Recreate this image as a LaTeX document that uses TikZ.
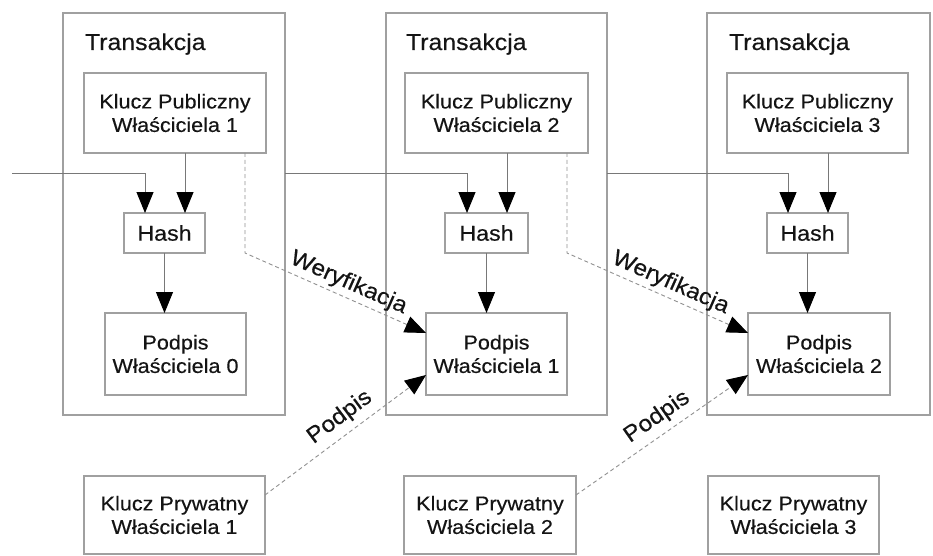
\documentclass[tikz,border=0pt]{standalone}
\usepackage{fontspec}
\setmainfont[FakeStretch=1.08,FakeBold=0.35]{Liberation Sans}
\usetikzlibrary{arrows.meta,calc}
\definecolor{boxgray}{RGB}{160,160,160}
\definecolor{linegray}{RGB}{120,120,120}
\definecolor{dashgray}{RGB}{145,145,145}
\definecolor{txt}{RGB}{20,20,20}
\begin{document}
\begin{tikzpicture}[x=1pt,y=-1pt,
  every node/.style={text=txt, inner sep=0pt, outer sep=0pt},
  frame/.style={draw=boxgray, line width=1.2pt, rectangle},
  keybox/.style={frame, align=center, font=\fontsize{20}{23.5}\selectfont},
  hashbox/.style={frame, font=\fontsize{21.5}{25}\selectfont},
  ttl/.style={anchor=base west, font=\fontsize{23}{27}\selectfont},
  arr/.style={draw=linegray, line width=0.9pt, -{Triangle[length=21pt,width=17pt,color=black]}},
  dasharr/.style={draw=dashgray, line width=0.9pt, dash pattern=on 4pt off 3pt, -{Triangle[length=21pt,width=17pt,color=black]}},
  lbl/.style={sloped, above, font=\fontsize{22.5}{26}\selectfont}
]
\useasboundingbox (0,0) rectangle (933,556);
\fill[white] (0,0) rectangle (933,556);

% transaction frames
\node[frame, minimum width=222pt, minimum height=402pt] (t1) at (174,214) {};
\node[frame, minimum width=221pt, minimum height=402pt] (t2) at (496.5,214) {};
\node[frame, minimum width=223pt, minimum height=402pt] (t3) at (818.5,214) {};
\node[ttl] (t1l) at (85,50) {Transakcja};
\node[ttl] (t2l) at (406,50) {Transakcja};
\node[ttl] (t3l) at (729,50) {Transakcja};

% public keys
\node[keybox, minimum width=182pt, minimum height=80pt] (pk1) at (175,113) {Klucz Publiczny\\Właściciela 1};
\node[keybox, minimum width=183pt, minimum height=80pt] (pk2) at (496.5,113) {Klucz Publiczny\\Właściciela 2};
\node[keybox, minimum width=181pt, minimum height=80pt] (pk3) at (817.5,113) {Klucz Publiczny\\Właściciela 3};

% hashes
\node[hashbox, minimum width=81pt, minimum height=40pt] (h1) at (164.5,233) {Hash};
\node[hashbox, minimum width=83pt, minimum height=40pt] (h2) at (486.5,233) {Hash};
\node[hashbox, minimum width=81pt, minimum height=40pt] (h3) at (807.5,233) {Hash};

% signatures
\node[keybox, minimum width=141pt, minimum height=82pt] (s0) at (175.5,354) {Podpis\\Właściciela 0};
\node[keybox, minimum width=141pt, minimum height=82pt] (s1) at (496.5,354) {Podpis\\Właściciela 1};
\node[keybox, minimum width=142pt, minimum height=82pt] (s2) at (819,354) {Podpis\\Właściciela 2};

% private keys
\node[keybox, minimum width=181pt, minimum height=78pt] (k1) at (174.5,515) {Klucz Prywatny\\Właściciela 1};
\node[keybox, minimum width=172pt, minimum height=78pt] (k2) at (490,515) {Klucz Prywatny\\Właściciela 2};
\node[keybox, minimum width=171pt, minimum height=78pt] (k3) at (793.5,515) {Klucz Prywatny\\Właściciela 3};

\coordinate (in0) at (12,173);

% chain into hashes
\draw[arr] (in0) -| ([xshift=-19.5pt]h1.north);
\draw[arr] (t1.east |- in0) -| ([xshift=-19.5pt]h2.north);
\draw[arr] (t2.east |- in0) -| ([xshift=-19.5pt]h3.north);

% public key into hash
\draw[arr] ([xshift=20.5pt]h1.north |- pk1.south) -- ([xshift=20.5pt]h1.north);
\draw[arr] ([xshift=20.5pt]h2.north |- pk2.south) -- ([xshift=20.5pt]h2.north);
\draw[arr] ([xshift=20.5pt]h3.north |- pk3.south) -- ([xshift=20.5pt]h3.north);

% hash into signature
\draw[arr] (h1.south) -- (h1.south |- s0.north);
\draw[arr] (h2.south) -- (h2.south |- s1.north);
\draw[arr] (h3.south) -- (h3.south |- s2.north);

% verification
\draw[dasharr] ([xshift=70pt]pk1.south) -- ([xshift=70pt]pk1.south |- h1.south)
  -- node[lbl, pos=0.54, inner sep=4pt] {Weryfikacja} ([yshift=21pt]s1.west);
\draw[dasharr] ([xshift=70.5pt]pk2.south) -- ([xshift=70.5pt]pk2.south |- h2.south)
  -- node[lbl, pos=0.54, inner sep=4pt] {Weryfikacja} ([yshift=21pt]s2.west);

% signing
\draw[dasharr] ([yshift=20pt]k1.east) -- node[lbl, pos=0.53, inner sep=7pt] {Podpis} ([yshift=-21pt]s1.west);
\draw[dasharr] ([yshift=20pt]k2.east) -- node[lbl, pos=0.53, inner sep=7pt] {Podpis} ([yshift=-21pt]s2.west);
\end{tikzpicture}
\end{document}
